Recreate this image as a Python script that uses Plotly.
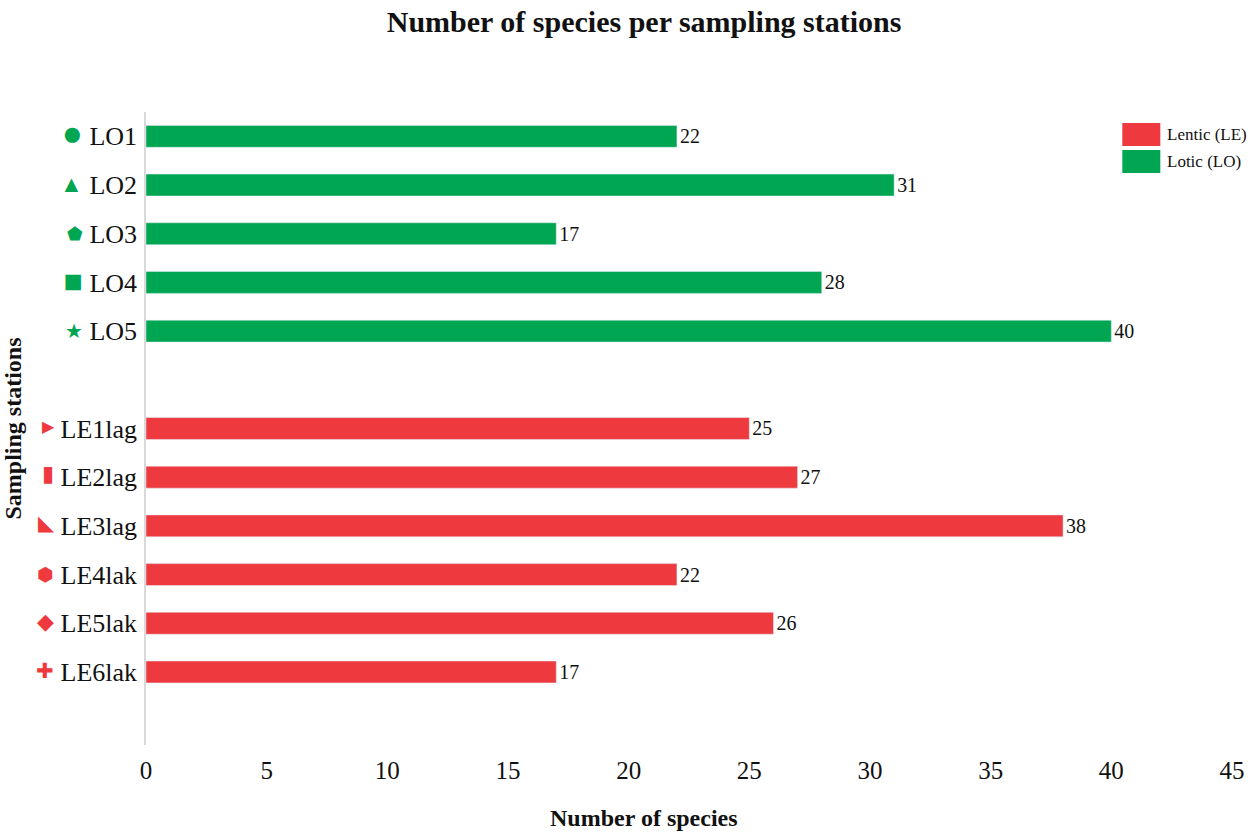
import plotly.graph_objects as go

# ---- data ----
lotic_stations = ["LO1", "LO2", "LO3", "LO4", "LO5"]
lotic_counts = [22, 31, 17, 28, 40]
lotic_symbols = ["●", "▲", "⬟", "■", "★"]

lentic_stations = ["LE1lag", "LE2lag", "LE3lag", "LE4lak", "LE5lak", "LE6lak"]
lentic_counts = [25, 27, 38, 22, 26, 17]
lentic_symbols = ["▶", "▮", "◣", "⬢", "◆", "✚"]

legend_labels = ["Lentic (LE)", "Lotic (LO)"]

# glyph display sizes and vertical shifts (style only)
GLYPH_SIZE = {"●": 35, "▲": 23, "⬟": 18, "■": 32, "★": 20,
              "▶": 16, "▮": 22, "◣": 21, "⬢": 19, "◆": 22, "✚": 21}
GLYPH_SHIFT = {"●": 0, "▲": 2, "⬟": 3, "■": 0, "★": 2,
               "▶": 6, "▮": 5, "◣": 5, "⬢": 3, "◆": 3, "✚": 3}

GREEN = "#00A651"
RED = "#EE3A3F"
FONT = "Liberation Serif"

# y slots: lotic on top, one empty slot, then lentic, plus one empty slot below
lotic_y = list(range(len(lotic_stations)))
lentic_y = [len(lotic_stations) + 1 + i for i in range(len(lentic_stations))]


def label(sym, name, col):
    return (f'<span style="color:{col};font-size:{GLYPH_SIZE[sym]}px;'
            f'baseline-shift:{GLYPH_SHIFT[sym]}px">{sym}</span> {name}')


tickvals = lotic_y + lentic_y
ticktext = ([label(s, n, GREEN) for s, n in zip(lotic_symbols, lotic_stations)]
            + [label(s, n, RED) for s, n in zip(lentic_symbols, lentic_stations)])

fig = go.Figure()
fig.add_trace(go.Bar(
    name=legend_labels[0], x=lentic_counts, y=lentic_y, orientation="h",
    marker_color=RED, width=0.45, text=lentic_counts, textposition="outside",
    textfont=dict(family=FONT, size=20, color="#111"), cliponaxis=False,
))
fig.add_trace(go.Bar(
    name=legend_labels[1], x=lotic_counts, y=lotic_y, orientation="h",
    marker_color=GREEN, width=0.45, text=lotic_counts, textposition="outside",
    textfont=dict(family=FONT, size=20, color="#111"), cliponaxis=False,
))

# manual legend (large swatches like the reference)
for i, (lab, col) in enumerate(zip(legend_labels, [RED, GREEN])):
    y_top = 0.9826 - i * 0.0427
    fig.add_shape(type="rect", xref="paper", yref="paper",
                  x0=0.899, x1=0.934, y0=y_top - 0.0363, y1=y_top,
                  fillcolor=col, line=dict(width=0))
    fig.add_annotation(xref="paper", yref="paper", x=0.938, y=y_top - 0.018,
                       xanchor="left", yanchor="middle", text=lab, showarrow=False,
                       font=dict(family=FONT, size=17, color="#111"))

# x-axis title (centred on the figure like the reference)
fig.add_annotation(xref="paper", yref="paper", x=0.4586, y=-0.1153,
                   xanchor="center", yanchor="middle", showarrow=False,
                   text="<b>Number of species</b>",
                   font=dict(family=FONT, size=24, color="#111"))

n_slots = len(lotic_stations) + 1 + len(lentic_stations) + 1
fig.update_layout(
    width=1258, height=834,
    margin=dict(l=146, r=26, t=112, b=89),
    paper_bgcolor="white", plot_bgcolor="white",
    font=dict(family=FONT, size=24, color="#111"),
    title=dict(text="<b>Number of species per sampling stations</b>",
               x=0.512, xref="container", xanchor="center", y=0.974, yanchor="middle",
               font=dict(family=FONT, size=30, color="#111")),
    showlegend=False,
    bargap=0.5,
)
fig.update_xaxes(
    range=[0, 45], dtick=5, showgrid=False, zeroline=False, showline=False,
    ticks="", tickfont=dict(family=FONT, size=25), ticklabelstandoff=8, automargin=False,
)
fig.update_yaxes(
    range=[n_slots - 0.5, -0.5], tickmode="array", tickvals=tickvals, ticktext=ticktext,
    showgrid=False, zeroline=False, showline=True, linecolor="#d9d9d9", linewidth=1.5,
    ticks="", tickfont=dict(family=FONT, size=26), ticklabelstandoff=2, automargin=False,
    title=dict(text="<b>Sampling stations</b>", font=dict(family=FONT, size=24), standoff=10),
)

fig.write_html("out.html")
